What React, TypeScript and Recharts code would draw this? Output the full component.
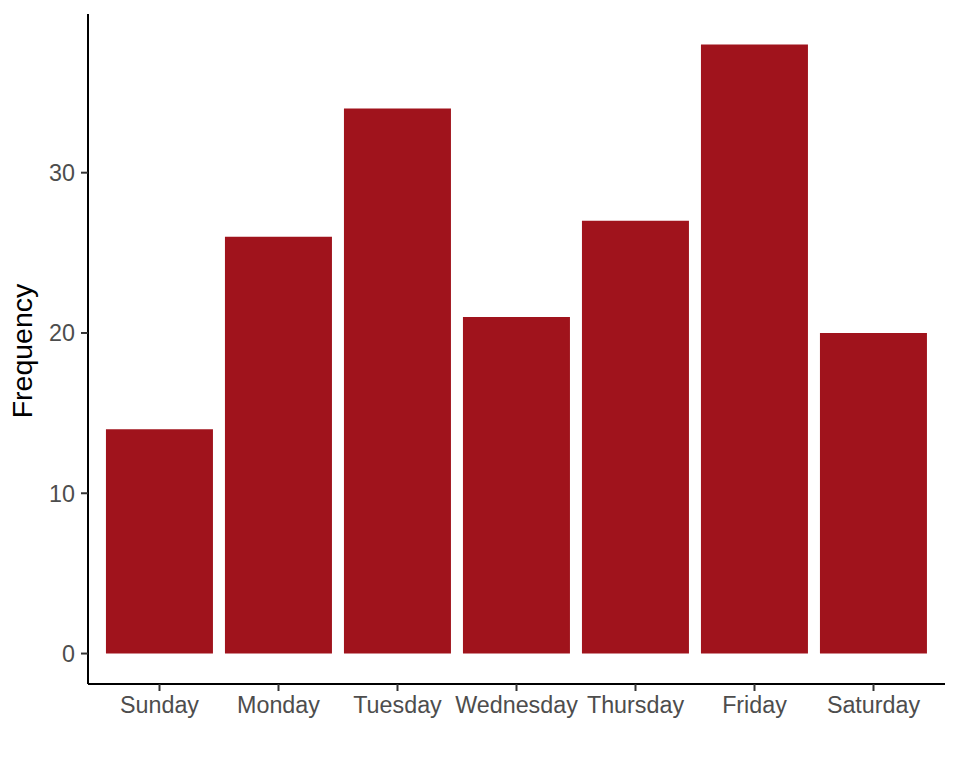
import React from 'react';
import { BarChart, Bar, XAxis, YAxis, Label } from 'recharts';

const days = ['Sunday', 'Monday', 'Tuesday', 'Wednesday', 'Thursday', 'Friday', 'Saturday'];
const frequency = [14, 26, 34, 21, 27, 38, 20];
const yTicks = [0, 10, 20, 30];

const data = days.map((d, i) => ({ day: d, freq: frequency[i] }));

const FONT = '"Liberation Sans", Arial, sans-serif';

export default function App() {
  return (
    <div style={{ position: 'absolute', left: 0, top: 0, width: 960, height: 768, background: '#fff' }}>
      <BarChart
        width={960}
        height={768}
        data={data}
        margin={{ top: 14, right: 15, bottom: 0, left: 0 }}
        barCategoryGap="5%"
      >
        <XAxis
          dataKey="day"
          height={84}
          padding={{ left: 12, right: 12 }}
          axisLine={{ stroke: '#000', strokeWidth: 2 }}
          tickLine={{ stroke: '#333', strokeWidth: 2 }}
          tickSize={7}
          tickMargin={5}
          interval={0}
          tick={{ fill: '#4D4D4D', fontSize: 23.3, fontFamily: FONT }}
        />
        <YAxis
          width={88}
          domain={[-1.9, 39.9]}
          ticks={yTicks}
          allowDataOverflow
          axisLine={{ stroke: '#000', strokeWidth: 2 }}
          tickLine={{ stroke: '#333', strokeWidth: 2 }}
          tickSize={7}
          tickMargin={6}
          tick={{ fill: '#4D4D4D', fontSize: 23.3, fontFamily: FONT }}
        >
          <Label
            content={() => (
              <text
                x={32}
                y={351}
                transform="rotate(-90, 32, 351)"
                textAnchor="middle"
                fill="#000"
                fontSize={28.5}
                fontFamily={FONT}
              >
                Frequency
              </text>
            )}
          />
        </YAxis>
        <Bar dataKey="freq" fill="#A0131C" isAnimationActive={false} />
      </BarChart>
    </div>
  );
}
